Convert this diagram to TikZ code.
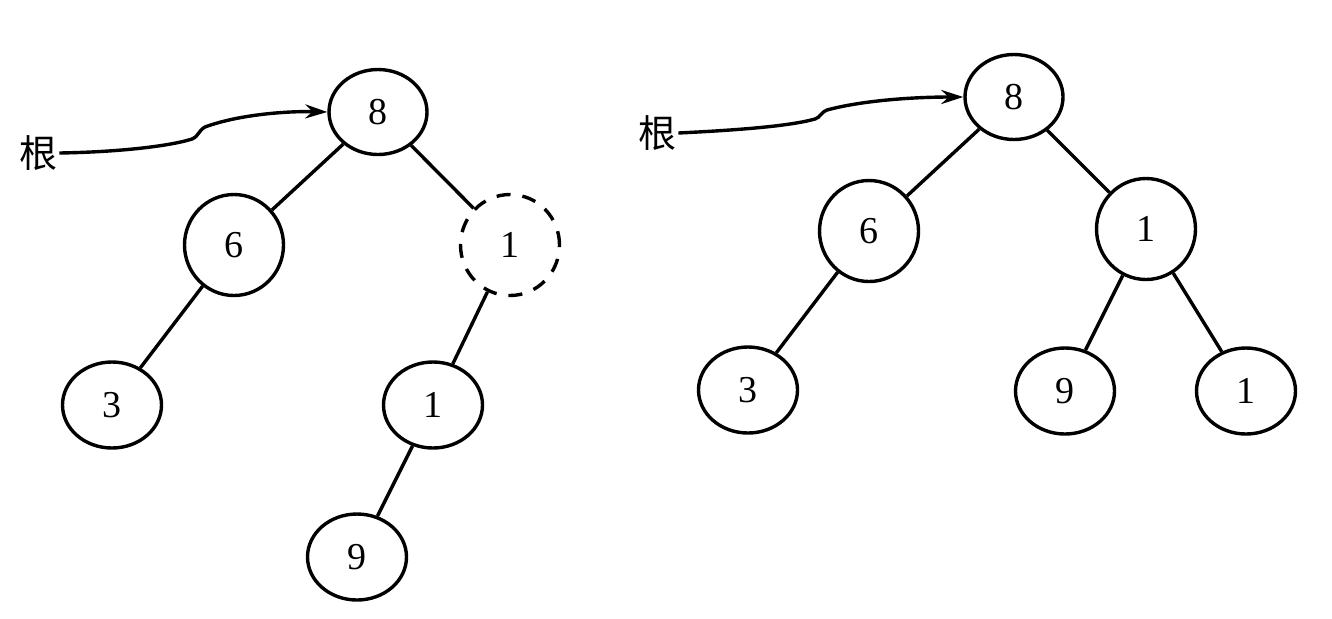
\documentclass[tikz,border=0pt]{standalone}
\usepackage{fontspec}
\setmainfont{Liberation Serif}
\newfontfamily\cjk{Noto Sans CJK SC}
\usetikzlibrary{shapes.geometric,arrows.meta}
\begin{document}
\begin{tikzpicture}[x=0.5pt,y=-0.5pt,
  tnode/.style={ellipse,draw,line width=1.7pt,inner sep=0pt,font=\fontsize{19}{22}\selectfont},
  rootnode/.style={tnode,minimum width=49pt,minimum height=42.5pt},
  innernode/.style={tnode,minimum width=49.5pt,minimum height=50.5pt},
  leafnode/.style={tnode,minimum width=49.5pt,minimum height=43pt},
  pending/.style={dash pattern=on 7pt off 6pt},
  link/.style={line width=1.7pt},
  pointer/.style={line width=1.7pt,-{Stealth[length=11pt,width=7pt]}},
  tag/.style={inner sep=1pt,font=\cjk\fontsize{19}{22}\selectfont}]
\useasboundingbox (0,0) rectangle (1332,618);

% tree before the rotation
\node[rootnode] (a8) at (378,112) {8};
\node[innernode] (a6) at (234,245) {6};
\node[innernode,pending] (a1) at (510,245) {1};
\node[leafnode] (a3) at (112,405) {3};
\node[leafnode] (a1b) at (433,405) {1};
\node[leafnode] (a9) at (357,557) {9};
\node[tag] (ta) at (38,153) {根};

\draw[link] (a8) -- (a6);
\draw[link] (a8) -- (a1);
\draw[link] (a6) -- (a3);
\draw[link] (a1) -- (a1b);
\draw[link] (a1b) -- (a9);
\draw[pointer] (ta.east) .. controls (120,152) and (170,146) .. (192,139)
  .. controls (199,136) and (198,131) .. (205,127)
  .. controls (240,114) and (290,111) .. (a8.west);

% tree after the rotation
\node[rootnode] (b8) at (1014,97) {8};
\node[innernode] (b6) at (869,231) {6};
\node[innernode] (b1) at (1146,229) {1};
\node[leafnode] (b3) at (748,390) {3};
\node[leafnode] (b9) at (1065,391) {9};
\node[leafnode] (b1b) at (1246,391) {1};
\node[tag] (tb) at (657,133) {根};

\draw[link] (b8) -- (b6);
\draw[link] (b8) -- (b1);
\draw[link] (b6) -- (b3);
\draw[link] (b1) -- (b9);
\draw[link] (b1) -- (b1b);
\draw[pointer] (tb.east) .. controls (740,130) and (790,126) .. (815,119)
  .. controls (821,117) and (820,113) .. (827,110)
  .. controls (860,101) and (910,97) .. (b8.west);
\end{tikzpicture}
\end{document}
